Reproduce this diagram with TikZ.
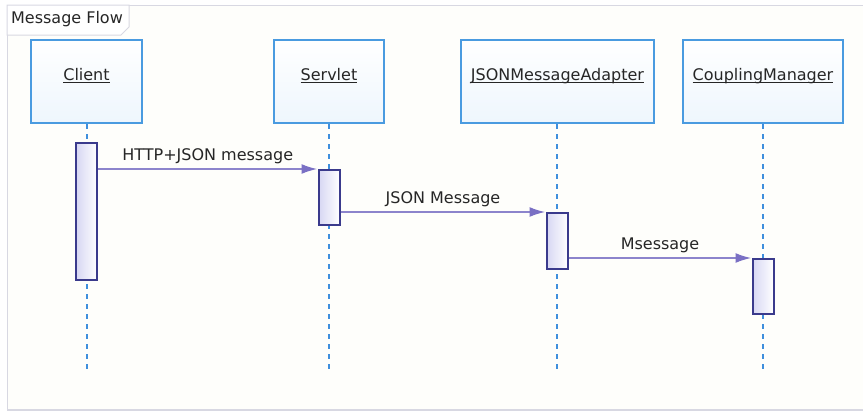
\documentclass[tikz,border=0pt]{standalone}
\usepackage{fontspec}
\setmainfont{DejaVu Sans}
\usetikzlibrary{arrows.meta}
\usetikzlibrary{positioning}
\definecolor{boxblue}{HTML}{4A9BE0}
\definecolor{boxfill}{HTML}{EEF6FD}
\definecolor{lineblue}{HTML}{3F8FDD}
\definecolor{actborder}{HTML}{3A3A8C}
\definecolor{actfill}{HTML}{D6D6F3}
\definecolor{msgpurple}{HTML}{8C84CC}
\definecolor{tippurple}{HTML}{7A70C4}
\definecolor{textgrey}{HTML}{262626}
\definecolor{framegrey}{HTML}{D8D8E2}
\definecolor{framefill}{HTML}{FEFEFB}
\newcommand{\ulname}[1]{\underline{\smash{#1}}}
\tikzstyle{lifebox} = [rectangle, minimum height=83pt, text centered, draw=boxblue, line width=2pt, top color=white, bottom color=boxfill, text=textgrey]
\tikzstyle{actbox} = [rectangle, minimum width=21pt, inner sep=0pt, draw=actborder, line width=2pt, left color=actfill, right color=white]
\tikzstyle{lifeline} = [draw=lineblue, line width=2pt, dash pattern=on 5pt off 5pt]
\tikzstyle{msg} = [draw=msgpurple, line width=2pt, -{Latex[length=16pt,width=10pt,color=tippurple]}]
\tikzstyle{msglabel} = [text=textgrey, inner sep=2pt]

\begin{document}
\begin{tikzpicture}[x=1pt, y=-1pt, font=\fontsize{16}{19}\selectfont]
		\useasboundingbox (0,0) rectangle (863,413);
		% frame
		\draw[framegrey, line width=1pt, fill=framefill] (863,5) -- (7,5) -- (7,410) -- (863,410);
		\draw[framegrey, line width=2pt] (7,410) -- (863,410);
		\draw[framegrey, line width=1pt, fill=white] (7,5) -- (129,5) -- (129,27) -- (121,35) -- (7,35) -- cycle;
		\node (title) [text=textgrey] at (67,19) {Message Flow};

		\node (client) [lifebox, minimum width=111pt] at (86.5,81.5) {\ulname{Client}};
		\node (servlet) [lifebox, minimum width=110pt] at (329,81.5) {\ulname{Servlet}};
		\node (adapter) [lifebox, minimum width=193pt] at (557.5,81.5) {\ulname{JSONMessageAdapter}};
		\node (coupling) [lifebox, minimum width=160pt] at (763,81.5) {\ulname{CouplingManager}};

		\coordinate (client_end) at (86.5,373);
		\coordinate (servlet_end) at (329,373);
		\coordinate (adapter_end) at (557,373);
		\coordinate (coupling_end) at (763,373);

		\draw[lifeline] (client.south) -- (client_end);
		\draw[lifeline] (servlet.south) -- (servlet_end);
		\draw[lifeline] (adapter.south -| adapter_end) -- (adapter_end);
		\draw[lifeline] (coupling.south) -- (coupling_end);

		\node (client_act) [actbox, minimum height=137pt] at (86.5,211.5) {};
		\node (servlet_act) [actbox, minimum height=55pt] at (329,197.5) {};
		\node (adapter_act) [actbox, minimum height=56pt] at (557,241) {};
		\node (coupling_act) [actbox, minimum height=55pt] at (763,286.5) {};

		\draw[msg] (client_act.east |- servlet_act.north west) -- node[msglabel, above=2pt] {HTTP+JSON message} (servlet_act.north west);
		\draw[msg] (servlet_act.east |- adapter_act.north west) -- node[msglabel, above=2pt] {JSON Message} (adapter_act.north west);
		\draw[msg] (adapter_act.east |- coupling_act.north west) -- node[msglabel, above=2pt] {Msessage} (coupling_act.north west);
	\end{tikzpicture}
\end{document}
